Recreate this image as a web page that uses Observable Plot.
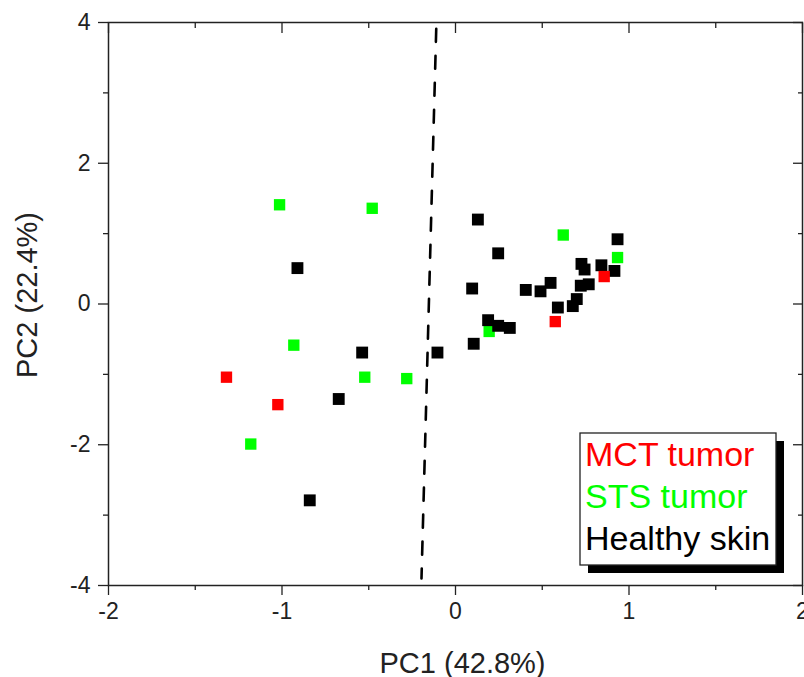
<!DOCTYPE html>
<html>
<head>
<meta charset="utf-8">
<script src="https://cdn.jsdelivr.net/npm/d3@7"></script>
<script src="https://cdn.jsdelivr.net/npm/@observablehq/plot@0.6"></script>
<style>
  html, body { margin: 0; padding: 0; background: #fff; }
  #chart svg { display: block; font-family: "Liberation Sans", Arial, sans-serif; }
</style>
</head>
<body>
<div id="chart"></div>
<script>
// ---- data ----
const mctX = [-1.32, -1.024, 0.857, 0.575];
const mctY = [-1.04, -1.43, 0.39, -0.25];

const stsX = [-1.014, -0.48, -0.932, -0.523, -0.281, -1.18, 0.621, 0.934, 0.194];
const stsY = [1.41, 1.36, -0.585, -1.04, -1.06, -1.99, 0.98, 0.66, -0.39];

const healthyX = [-0.911, -0.538, -0.104, -0.673, -0.84, 0.129, 0.934, 0.246, 0.726, 0.744,
                  0.841, 0.916, 0.096, 0.405, 0.49, 0.548, 0.722, 0.768, 0.699, 0.676,
                  0.59, 0.188, 0.246, 0.313, 0.105];
const healthyY = [0.51, -0.69, -0.69, -1.35, -2.79, 1.20, 0.92, 0.72, 0.57, 0.49,
                  0.55, 0.47, 0.22, 0.20, 0.18, 0.30, 0.26, 0.28, 0.07, -0.03,
                  -0.05, -0.23, -0.31, -0.34, -0.565];

// dashed separating line
const sepX = [-0.111, -0.196];
const sepY = [3.91, -3.90];

const xMajorTicks = [-2, -1, 0, 1, 2];
const xMinorTicks = [-1.5, -0.5, 0.5, 1.5];
const yMajorTicks = [-4, -2, 0, 2, 4];
const yMinorTicks = [-3, -1, 1, 3];

const legendLabels = ["MCT tumor", "STS tumor", "Healthy skin"];
const legendColors = ["#ff0000", "#00ff00", "#000000"];

const xLabel = "PC1 (42.8%)";
const yLabel = "PC2 (22.4%)";

// ---- build tables ----
const toPts = (xs, ys) => xs.map((x, i) => ({x, y: ys[i]}));
const mct = toPts(mctX, mctY);
const sts = toPts(stsX, stsY);
const healthy = toPts(healthyX, healthyY);
const sep = toPts(sepX, sepY);

const fmt = d => String(d);
const tickColor = "#222";

function legend(index, scales, values, dims) {
  const g = d3.create("svg:g");
  const x0 = 580, y0 = 433, w = 196, h = 132, off = 8;
  g.append("rect").attr("x", x0 + off).attr("y", y0 + off).attr("width", w).attr("height", h).attr("fill", "#000");
  g.append("rect").attr("x", x0).attr("y", y0).attr("width", w).attr("height", h)
    .attr("fill", "#fff").attr("stroke", "#222").attr("stroke-width", 1.3);
  legendLabels.forEach((t, i) => {
    g.append("text").attr("x", x0 + 5).attr("y", y0 + 33 + i * 42)
      .attr("fill", legendColors[i]).attr("font-size", 34)
      .attr("text-anchor", "start")
      .attr("font-family", "'Liberation Sans', Arial, sans-serif")
      .text(t);
  });
  return g.node();
}

const chart = Plot.plot({
  width: 804,
  height: 677,
  marginLeft: 108,
  marginRight: 2,
  marginTop: 22,
  marginBottom: 92,
  x: {domain: [-2, 2]},
  y: {domain: [-4, 4]},
  style: {fontFamily: "'Liberation Sans', Arial, sans-serif", color: tickColor},
  marks: [
    // bottom axis (outward)
    Plot.axisX(xMajorTicks, {anchor: "bottom", tickSize: 10, tickPadding: 7, fontSize: 23, tickFormat: fmt, label: null, stroke: tickColor, strokeWidth: 1.3}),
    Plot.axisX(xMinorTicks, {anchor: "bottom", tickSize: 5, tickFormat: () => "", label: null, stroke: tickColor, strokeWidth: 1.3}),
    // top axis (inward)
    Plot.axisX(xMajorTicks, {anchor: "top", tickSize: -10, tickFormat: () => "", label: null, stroke: tickColor, strokeWidth: 1.3}),
    Plot.axisX(xMinorTicks, {anchor: "top", tickSize: -5, tickFormat: () => "", label: null, stroke: tickColor, strokeWidth: 1.3}),
    // left axis (outward)
    Plot.axisY(yMajorTicks, {anchor: "left", tickSize: 10, tickPadding: 8, fontSize: 23, tickFormat: fmt, label: null, stroke: tickColor, strokeWidth: 1.3}),
    Plot.axisY(yMinorTicks, {anchor: "left", tickSize: 5, tickFormat: () => "", label: null, stroke: tickColor, strokeWidth: 1.3}),
    // right axis (inward)
    Plot.axisY(yMajorTicks, {anchor: "right", tickSize: -10, tickFormat: () => "", label: null, stroke: tickColor, strokeWidth: 1.3}),
    Plot.axisY(yMinorTicks, {anchor: "right", tickSize: -5, tickFormat: () => "", label: null, stroke: tickColor, strokeWidth: 1.3}),
    Plot.frame({stroke: tickColor, strokeWidth: 1.5}),
    // axis titles
    Plot.text([xLabel], {text: d => d, frameAnchor: "bottom", textAnchor: "middle", lineAnchor: "bottom", dx: 7, dy: 87, fontSize: 29, fill: tickColor}),
    Plot.text([yLabel], {text: d => d, frameAnchor: "left", textAnchor: "middle", lineAnchor: "bottom", rotate: -90, dx: -72, dy: -9, fontSize: 29, fill: tickColor}),
    // separator line
    Plot.line(sep, {x: "x", y: "y", stroke: "#000", strokeWidth: 2.6, strokeDasharray: "13,14"}),
    // points
    Plot.dot(sts, {x: "x", y: "y", symbol: "square", r: 6.4, fill: legendColors[1]}),
    Plot.dot(healthy, {x: "x", y: "y", symbol: "square", r: 6.7, fill: legendColors[2]}),
    Plot.dot(mct, {x: "x", y: "y", symbol: "square", r: 6.4, fill: legendColors[0]}),
    legend
  ]
});
document.getElementById("chart").appendChild(chart);
</script>
</body>
</html>
